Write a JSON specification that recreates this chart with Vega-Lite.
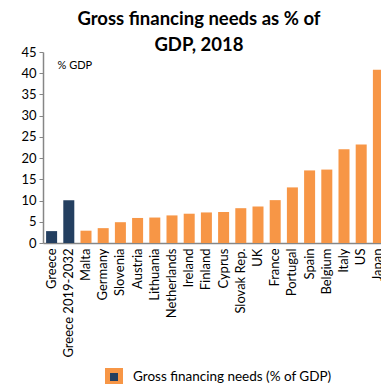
{
  "$schema": "https://vega.github.io/schema/vega-lite/v6.json",
  "autosize": "none",
  "width": 344,
  "height": 191,
  "padding": {"left": 43, "top": 52, "right": -6, "bottom": 141},
  "background": "white",
  "title": {
    "text": ["Gross financing needs as % of", "GDP, 2018"],
    "font": "Lato",
    "fontSize": 18.5,
    "fontWeight": "bold",
    "color": "#000000",
    "anchor": "start",
    "dx": 178,
    "offset": -8,
    "lineHeight": 26,
    "align": "center"
  },
  "data": {
    "values": [
      {"country": "Greece", "group": "Greece", "series": "Gross financing needs (% of GDP)", "value": 2.8},
      {"country": "Greece 2019-2032", "group": "Greece", "series": "Gross financing needs (% of GDP)", "value": 10.1},
      {"country": "Malta", "group": "Other", "series": "Gross financing needs (% of GDP)", "value": 2.9},
      {"country": "Germany", "group": "Other", "series": "Gross financing needs (% of GDP)", "value": 3.5},
      {"country": "Slovenia", "group": "Other", "series": "Gross financing needs (% of GDP)", "value": 4.9},
      {"country": "Austria", "group": "Other", "series": "Gross financing needs (% of GDP)", "value": 5.9},
      {"country": "Lithuania", "group": "Other", "series": "Gross financing needs (% of GDP)", "value": 6.0},
      {"country": "Netherlands", "group": "Other", "series": "Gross financing needs (% of GDP)", "value": 6.5},
      {"country": "Ireland", "group": "Other", "series": "Gross financing needs (% of GDP)", "value": 6.9},
      {"country": "Finland", "group": "Other", "series": "Gross financing needs (% of GDP)", "value": 7.2},
      {"country": "Cyprus", "group": "Other", "series": "Gross financing needs (% of GDP)", "value": 7.3},
      {"country": "Slovak Rep.", "group": "Other", "series": "Gross financing needs (% of GDP)", "value": 8.2},
      {"country": "UK", "group": "Other", "series": "Gross financing needs (% of GDP)", "value": 8.6},
      {"country": "France", "group": "Other", "series": "Gross financing needs (% of GDP)", "value": 10.1},
      {"country": "Portugal", "group": "Other", "series": "Gross financing needs (% of GDP)", "value": 13.1},
      {"country": "Spain", "group": "Other", "series": "Gross financing needs (% of GDP)", "value": 17.1},
      {"country": "Belgium", "group": "Other", "series": "Gross financing needs (% of GDP)", "value": 17.3},
      {"country": "Italy", "group": "Other", "series": "Gross financing needs (% of GDP)", "value": 22.1},
      {"country": "US", "group": "Other", "series": "Gross financing needs (% of GDP)", "value": 23.2},
      {"country": "Japan", "group": "Other", "series": "Gross financing needs (% of GDP)", "value": 40.8}
    ]
  },
  "mark": {"type": "bar", "strokeOpacity": 0},
  "encoding": {
    "x": {
      "field": "country",
      "type": "nominal",
      "sort": null,
      "scale": {"paddingInner": 0.36, "paddingOuter": 0.18},
      "axis": {
        "title": null,
        "labelAngle": -90,
        "labelFont": "Lato",
        "labelFontSize": 13,
        "labelColor": "#000000",
        "labelPadding": 5,
        "ticks": false,
        "domainColor": "#868686",
        "domainWidth": 1.5
      }
    },
    "y": {
      "field": "value",
      "type": "quantitative",
      "scale": {"domain": [0, 45]},
      "axis": {
        "values": [0, 5, 10, 15, 20, 25, 30, 35, 40, 45],
        "grid": false,
        "title": "% GDP",
        "titleAngle": 0,
        "titleX": 14,
        "titleY": 13,
        "titleAlign": "left",
        "titleBaseline": "middle",
        "titleFont": "Lato",
        "titleFontSize": 11,
        "titleFontWeight": "normal",
        "titleColor": "#000000",
        "labelFont": "Lato",
        "labelFontSize": 13,
        "labelColor": "#000000",
        "labelPadding": 3,
        "tickColor": "#868686",
        "tickSize": 4,
        "domainColor": "#868686",
        "domainWidth": 1.5
      }
    },
    "fill": {
      "field": "group",
      "type": "nominal",
      "scale": {"domain": ["Greece", "Other"], "range": ["#243F60", "#F79646"]},
      "legend": null
    },
    "stroke": {
      "field": "series",
      "type": "nominal",
      "scale": {"range": ["#F79646"]},
      "legend": {
        "title": null,
        "orient": "none",
        "legendX": 62,
        "legendY": 316,
        "symbolType": "square",
        "symbolSize": 169,
        "symbolFillColor": "#243F60",
        "symbolStrokeWidth": 5,
        "labelFont": "Lato",
        "labelFontSize": 13.5,
        "labelColor": "#000000",
        "labelOffset": 10,
        "labelLimit": 0,
        "encode": {
          "symbols": {
            "update": {
              "fill": {"value": "#243F60"},
              "fillOpacity": {"value": 1},
              "strokeOpacity": {"value": 1},
              "strokeWidth": {"value": 5}
            }
          }
        }
      }
    }
  },
  "config": {"view": {"stroke": null}}
}
